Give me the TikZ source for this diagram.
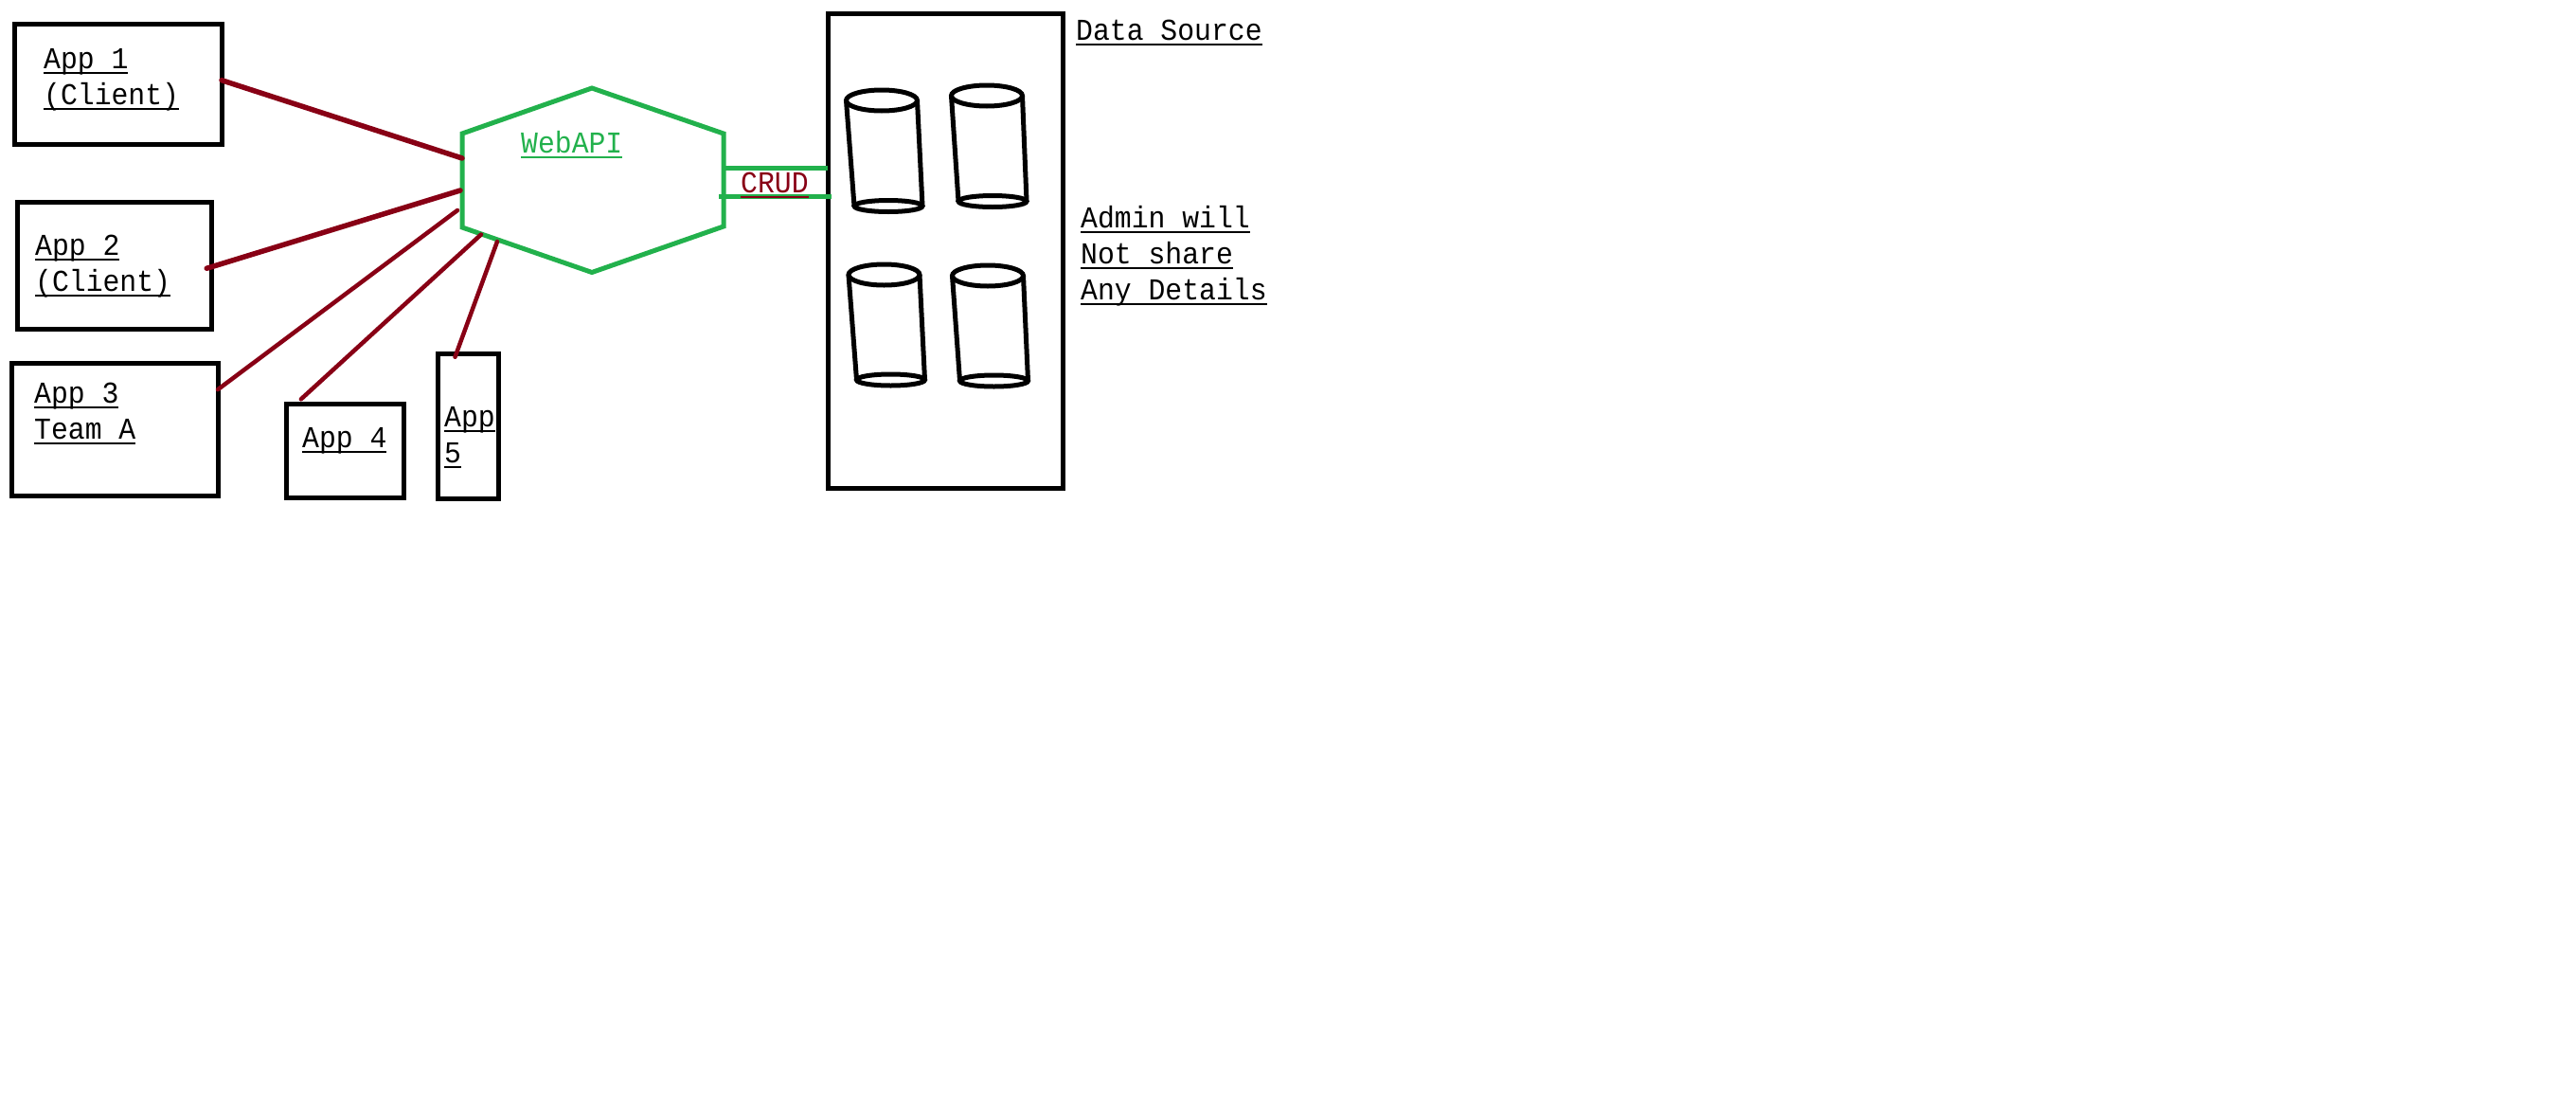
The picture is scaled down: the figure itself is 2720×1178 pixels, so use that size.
\documentclass[tikz,border=0pt]{standalone}
\usepackage{fontspec}
\usepackage{tikz}
\usepackage{xcolor}
\newfontfamily\sketchfont[FakeStretch=0.93]{Liberation Mono}
\definecolor{paintgreen}{HTML}{22B14C}
\definecolor{paintred}{HTML}{880015}
\newcommand{\ulined}[1]{\setbox0\hbox{#1}\rlap{\rule[-5.3pt]{\wd0}{2pt}}\box0}
\tikzset{
    appbox/.style={draw=black, line width=5pt, anchor=north west, inner sep=0pt, outer sep=0pt},
    lbl/.style={inner sep=0pt, anchor=base west, align=left, font=\sketchfont\fontsize{32}{38}\selectfont},
    link/.style={draw=paintred, line width=4.5pt, line cap=round},
    crudline/.style={draw=paintgreen, line width=5pt},
    cyl/.style={draw=black, line width=5pt}
}

\begin{document}
\begin{tikzpicture}[x=1pt, y=-1pt]
    \useasboundingbox (0,0) rectangle (2720,1178);

    % client boxes
    \node [appbox, minimum width=219pt, minimum height=127pt] (app1) at (15,25) {};
    \node [appbox, minimum width=205pt, minimum height=134pt] (app2) at (18,213) {};
    \node [appbox, minimum width=218pt, minimum height=140pt] (app3) at (12,383) {};
    \node [appbox, minimum width=124pt, minimum height=99pt] (app4) at (302,426) {};
    \node [appbox, minimum width=64pt, minimum height=153pt] (app5) at (462,373) {};

    % multi-line labels sit on their last line
    \node [lbl] (app1txt) at (46,110.7) {\ulined{App 1}\\\ulined{(Client)}};
    \node [lbl] (app2txt) at (37,307.2) {\ulined{App 2}\\\ulined{(Client)}};
    \node [lbl] (app3txt) at (36,463.2) {\ulined{App 3}\\\ulined{Team A}};
    \node [lbl] (app4txt) at (319,472.2) {\ulined{App 4}};
    \node [lbl] (app5txt) at (469,488.2) {\ulined{App}\\\ulined{5}};

    % web api
    \coordinate (hexa) at (488,141);
    \coordinate (hexb) at (625,93);
    \coordinate (hexc) at (764,141);
    \coordinate (hexd) at (764,239);
    \coordinate (hexe) at (625,287.5);
    \coordinate (hexf) at (488,240);
    \draw [crudline, line join=miter] (hexa) -- (hexb) -- (hexc) -- (hexd) -- (hexe) -- (hexf) -- cycle;
    \node [lbl, text=paintgreen] (webapi) at (550,161.2) {\ulined{WebAPI}};

    \coordinate (hub1) at (488,167);
    \coordinate (hub2) at (486,201);
    \coordinate (hub3) at (483,222);
    \coordinate (hub4) at (508,247.5);
    \coordinate (hub5) at (525,255);

    \draw [link, line width=5.5pt] (app1.2) -- (hub1);
    \draw [link, line width=5.5pt, shorten <=-5pt] (app2.-1) -- (hub2);
    \draw [link] (app3.21) -- (hub3);
    \draw [link, shorten <=7pt] (app4.136) -- (hub4);
    \draw [link, shorten <=-4pt] (app5.99) -- (hub5);

    % data source
    \node [appbox, minimum width=248pt, minimum height=501pt] (source) at (874,14) {};
    \node [lbl] (sourcetxt) at (1136,42.7) {\ulined{Data Source}};
    \node [lbl] (admintxt) at (1141,316.2) {\ulined{Admin will}\\\ulined{Not share}\\\ulined{Any Details}};

    \coordinate (crud1) at (764,177);
    \coordinate (crud2) at (759,207);
    \draw [crudline] (crud1) -- (source.west |- crud1);
    \draw [crudline, shorten >=-4pt] (crud2) -- (source.west |- crud2);
    \node [lbl, text=paintred] (crudtxt) at (782,203.2) {\ulined{CRUD}};

    % the four databases
    \foreach \tx/\ty/\bx/\by in {931/106/938/217.5, 1042/101/1048/212.5, 933.5/290/940.5/401, 1043/291/1049.5/402} {
        \draw [cyl] (\tx,\ty) ellipse [x radius=37.5pt, y radius=11pt];
        \draw [cyl] (\bx,\by) ellipse [x radius=36pt, y radius=6pt];
        \draw [cyl] (\tx-37.5,\ty) -- (\bx-36,\by);
        \draw [cyl] (\tx+37.5,\ty) -- (\bx+36,\by);
    }
\end{tikzpicture}
\end{document}
